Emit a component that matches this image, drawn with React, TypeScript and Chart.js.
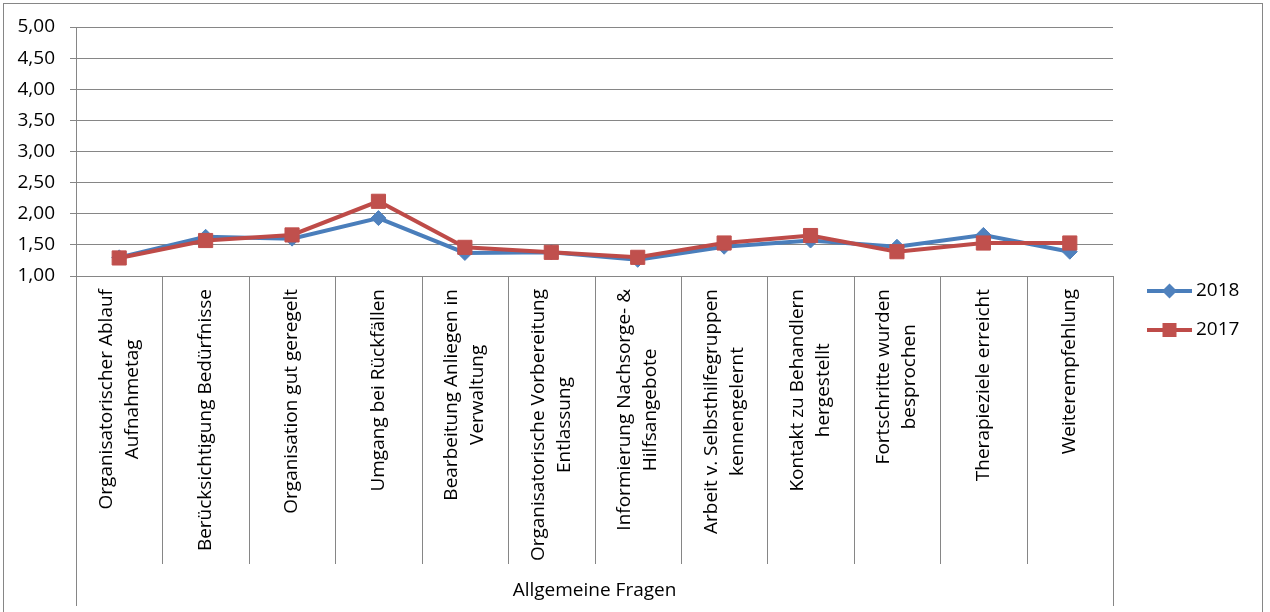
import React, { useEffect, useRef } from "react";
import { Chart, registerables } from "chart.js";

Chart.register(...registerables);

const categoryLines: string[][] = [
  ["Organisatorischer Ablauf", "Aufnahmetag"],
  ["Berücksichtigung Bedürfnisse"],
  ["Organisation gut geregelt"],
  ["Umgang bei Rückfällen"],
  ["Bearbeitung Anliegen in", "Verwaltung"],
  ["Organisatorische Vorbereitung", "Entlassung"],
  ["Informierung Nachsorge- &", "Hilfsangebote"],
  ["Arbeit v. Selbsthilfegruppen", "kennengelernt"],
  ["Kontakt zu Behandlern", "hergestellt"],
  ["Fortschritte wurden", "besprochen"],
  ["Therapieziele erreicht"],
  ["Weiterempfehlung"],
];
const categories = categoryLines.map((l) => l.join(" "));
const groupLabel = "Allgemeine Fragen";

const series2018 = [1.3, 1.63, 1.6, 1.93, 1.37, 1.38, 1.26, 1.47, 1.57, 1.47, 1.66, 1.39];
const series2017 = [1.29, 1.57, 1.66, 2.2, 1.46, 1.38, 1.3, 1.53, 1.65, 1.39, 1.53, 1.53];
const seriesNames = ["2018", "2017"];

const yMin = 1;
const yMax = 5;
const yStep = 0.5;

const FONT = '"Open Sans", sans-serif';
const FONT_SIZE = 19;
const GRID = "#868686";
const BLUE_LINE = "#4A7EBB";
const BLUE_FILL = "#4F81BD";
const RED_LINE = "#BE4B48";
const RED_FILL = "#C0504D";

const decorPlugin = {
  id: "decor",
  afterDraw(chart: any) {
    const { ctx, chartArea: ca, scales } = chart;
    const x = scales.x;
    ctx.save();
    ctx.strokeStyle = GRID;
    ctx.lineWidth = 1;
    ctx.strokeRect(3.5, 3.5, 1259, 700);
    const n = categories.length;
    const step = (ca.right - ca.left) / n;
    const sepBottom = 564;
    const axisBottom = 606;
    ctx.beginPath();
    for (let i = 1; i < n; i++) {
      const px = Math.round(ca.left + step * i) + 0.5;
      ctx.moveTo(px, ca.bottom);
      ctx.lineTo(px, sepBottom);
    }
    const lx = Math.round(ca.left) + 0.5;
    const rx = Math.round(ca.right) + 0.5;
    ctx.moveTo(lx, ca.bottom);
    ctx.lineTo(lx, axisBottom);
    ctx.moveTo(rx, ca.bottom);
    ctx.lineTo(rx, axisBottom);
    ctx.stroke();

    ctx.fillStyle = "#000";
    ctx.font = `${FONT_SIZE}px ${FONT}`;
    ctx.textAlign = "center";
    ctx.textBaseline = "middle";
    const topY = 289;
    const lineH = 26;
    categoryLines.forEach((lines, i) => {
      const cx = x.getPixelForValue(i);
      const maxW = Math.max(...lines.map((l) => ctx.measureText(l).width));
      lines.forEach((line, j) => {
        const off = (j - (lines.length - 1) / 2) * lineH;
        ctx.save();
        ctx.translate(cx + off, topY + maxW / 2);
        ctx.rotate(-Math.PI / 2);
        ctx.fillText(line, 0, 0);
        ctx.restore();
      });
    });

    ctx.fillText(groupLabel, (ca.left + ca.right) / 2, 591);

    const legendItems = [
      { name: seriesNames[0], line: BLUE_LINE, fill: BLUE_FILL, shape: "diamond", y: 291 },
      { name: seriesNames[1], line: RED_LINE, fill: RED_FILL, shape: "square", y: 330 },
    ];
    legendItems.forEach((it) => {
      ctx.strokeStyle = it.line;
      ctx.lineWidth = 4;
      ctx.beginPath();
      ctx.moveTo(1147, it.y);
      ctx.lineTo(1192, it.y);
      ctx.stroke();
      ctx.fillStyle = it.fill;
      const mx = 1169.5;
      ctx.beginPath();
      if (it.shape === "diamond") {
        ctx.moveTo(mx, it.y - 7.5);
        ctx.lineTo(mx + 7.5, it.y);
        ctx.lineTo(mx, it.y + 7.5);
        ctx.lineTo(mx - 7.5, it.y);
        ctx.closePath();
      } else {
        ctx.rect(mx - 7, it.y - 7, 14, 14);
      }
      ctx.fill();
      ctx.fillStyle = "#000";
      ctx.textAlign = "left";
      ctx.fillText(it.name, 1196, it.y);
    });
    ctx.restore();
  },
};

export default function App() {
  const ref = useRef<HTMLCanvasElement | null>(null);
  useEffect(() => {
    if (!ref.current) return;
    const chart = new Chart(ref.current, {
      type: "line",
      data: {
        labels: categories,
        datasets: [
          {
            label: seriesNames[0],
            data: series2018,
            borderColor: BLUE_LINE,
            backgroundColor: BLUE_FILL,
            borderWidth: 4,
            pointStyle: "rectRot",
            pointRadius: 7.5,
            pointBorderWidth: 1,
            pointBorderColor: BLUE_FILL,
            pointBackgroundColor: BLUE_FILL,
            tension: 0,
            order: 2,
          },
          {
            label: seriesNames[1],
            data: series2017,
            borderColor: RED_LINE,
            backgroundColor: RED_FILL,
            borderWidth: 4,
            pointStyle: "rect",
            pointRadius: 10,
            pointBorderWidth: 1,
            pointBorderColor: RED_FILL,
            pointBackgroundColor: RED_FILL,
            tension: 0,
            order: 1,
          },
        ],
      },
      options: {
        responsive: false,
        animation: false,
        layout: { padding: { left: 0, top: 27, right: 1270 - 1113, bottom: 612 - 276 } },
        plugins: { legend: { display: false }, tooltip: { enabled: false } },
        scales: {
          x: { type: "category", display: false, offset: true },
          y: {
            min: yMin,
            max: yMax,
            afterFit: (s: any) => {
              s.width = 76;
            },
            ticks: {
              stepSize: yStep,
              padding: 15,
              color: "#000",
              font: { family: FONT, size: FONT_SIZE },
              callback: (v: any) => Number(v).toFixed(2).replace(".", ","),
            },
            grid: { color: GRID, lineWidth: 1, tickLength: 6, tickColor: GRID },
            border: { color: GRID, width: 1 },
          },
        },
      },
      plugins: [decorPlugin],
    });
    return () => chart.destroy();
  }, []);
  return (
    <div style={{ position: "fixed", left: 0, top: 0, width: 1270, height: 612, background: "#fff" }}>
      <canvas ref={ref} width={1270} height={612} style={{ display: "block" }} />
    </div>
  );
}
